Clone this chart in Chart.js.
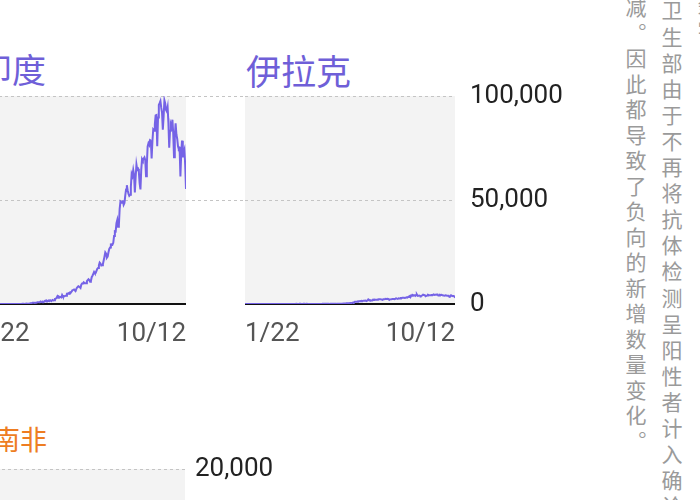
<!DOCTYPE html>
<html>
<head>
<meta charset="utf-8">
<script src="https://cdn.jsdelivr.net/npm/chart.js@4.4.0/dist/chart.umd.min.js"></script>
<style>
  body { margin: 0; width: 700px; height: 500px; overflow: hidden; position: relative; background: #fff; }
  canvas { position: absolute; }
  .title { position: absolute; font-family: "Noto Sans CJK SC"; white-space: nowrap; line-height: 1; }
  .note { position: absolute; writing-mode: vertical-rl; font-family: "Noto Sans CJK SC"; font-size: 21px;
          letter-spacing: 4.5px; line-height: 1; color: #9a9a9a; white-space: nowrap; }
</style>
</head>
<body>

<div class="title" style="left:-22px; top:52px; font-size:34px; color:#6f5fd8">印度</div>
<div class="title" style="left:246px; top:52px; font-size:35px; color:#6f5fd8">伊拉克</div>
<div class="title" style="left:-7px; top:425px; font-size:27px; color:#ee7d22">南非</div>

<div class="note" style="left:697px; top:-6px">数字</div>
<div class="note" style="left:661px; top:0px; letter-spacing:5.1px">卫生部由于不再将抗体检测呈阳性者计入确诊病例</div>
<div class="note" style="left:625px; top:-3px">减。因此都导致了负向的新增数量变化。</div>

<canvas id="bgTop" width="580" height="288" style="left:0; top:56px"></canvas>
<canvas id="india" width="211" height="258" style="left:-25px; top:86px"></canvas>
<canvas id="iraq" width="210" height="258" style="left:245px; top:86px"></canvas>
<canvas id="southAfrica" width="295" height="288" style="left:-10px; top:429px"></canvas>

<script>
// 2020-01-22 .. 2020-10-12, daily new confirmed cases
const startDate = new Date(2020, 0, 22);
const dayCount = 265;
const dates = [];
for (let i = 0; i < dayCount; i++) {
  const d = new Date(startDate.getFullYear(), startDate.getMonth(), startDate.getDate() + i);
  dates.push((d.getMonth() + 1) + "/" + d.getDate());
}
const xTickLabels = ["1/22", "10/12"];

const india = [
  0,0,0,0,0,0,0,0,1,0,
  0,1,1,0,0,0,0,0,0,0, 0,0,0,0,0,0,0,0,0,0, 0,0,0,0,0,0,0,0,0,
  0,2,0,22,2,1,3,5,4,6, 0,11,9,20,11,6,23,14,38,50, 86,66,103,37,121,70,160,100,82,227, 146,
  424,486,560,579,609,484,573,565,813,871, 854,758,1243,1031,886,1061,922,1371,1580,1239,
  1537,1292,1667,1408,1835,1607,1568,1902,1705,1801,
  2396,2564,2952,3656,2971,3602,3344,3339,3175,4311, 3592,3562,3726,3967,3970,4987,4987,5242,4970,5611,
  5609,6088,6654,6767,6977,6535,6387,7466,7964,8380, 8392,
  8171,7761,9304,9851,9887,10438,9971,9987,9985,10956, 11458,11929,11502,10667,10974,12881,13586,14516,15413,14821,
  14933,15968,16922,17296,18552,19906,19459,18522,18653,19148,
  20903,22771,24850,24248,22252,22752,24879,26506,27114,28637, 28701,28498,29429,32695,34956,34884,38902,40425,37148,37724,
  45720,49310,48916,48661,49931,47703,48513,52123,55078,57118, 54735,
  52972,52050,52509,56282,62538,61537,64399,62064,53601,60963, 66999,64553,65002,63490,57981,55079,64531,69652,68898,69878,
  70488,69239,61408,67151,75760,77266,76472,78761,78512,69921, 78357,
  83883,83341,86432,90632,90802,75809,89706,95735,96551,97570, 94372,92071,83809,90123,97894,96424,93337,92605,94612,86961,
  75083,83347,86508,85362,88600,82170,70589,80472,86821,81484,
  79476,75829,74442,74767,61267,72049,78524,70496,73272,74383, 66732,55342
];

const iraq = [
  0,0,0,0,0,0,0,0,0,0,
  0,0,0,0,0,0,0,0,0,0, 0,0,0,0,0,0,0,0,0,0, 0,0,0,1,0,4,1,0,1,
  6,0,12,5,6,2,10,8,6,10, 0,9,8,7,14,14,10,31,25,16, 19,33,33,50,30,36,76,48,41,57, 64,
  66,56,52,59,80,68,46,69,65,60, 30,37,32,41,22,27,24,30,34,20, 37,28,26,37,40,30,29,68,75,62,
  96,63,80,68,86,97,46,88,75,103, 80,72,67,99,102,65,150,115,103,144, 89,147,141,172,199,217,231,299,339,326, 419,
  416,441,444,530,599,740,701,1100,1040,1096, 1050,1274,1306,1279,1437,1319,1461,1407,1585,1572,
  1641,1526,1527,1646,2200,1970,1747,1765,1729,1731,
  2115,2038,2161,2002,1998,2019,2208,2311,2307,2284, 2226,2125,1963,2256,2278,2346,2445,2428,2553,2434,
  2197,2187,2221,2340,2376,2393,2406,2356,2529,2717, 2573,
  2443,2741,2648,2687,2863,2884,3014,3000,2978,2931, 3000,3222,3100,3396,3576,3841,3346,4201,4013,4348,
  4177,4234,3937,4330,4575,3933,4022,4052,3905,3787, 4020,
  4146,4474,4389,4269,3766,3932,4089,4405,4321,4257, 4254,4221,4330,4290,4584,4388,4406,4426,4590,4550,
  4069,4051,4430,4340,4460,4230,4067,4072,4000,4213,
  4134,3924,3973,3933,3422,3528,4213,4014,3892,3890, 3717,3056
];

const southAfrica = [
  0,0,0,0,0,0,0,0,0,0,
  0,0,0,0,0,0,0,0,0,0, 0,0,0,0,0,0,0,0,0,0, 0,0,0,0,0,0,0,0,0,
  0,0,0,0,1,0,1,1,4,0, 6,4,7,14,13,11,23,31,34,52, 38,34,128,152,155,218,243,17,93,48, 27,
  27,82,75,43,50,69,63,96,69,24, 29,18,72,89,127,99,87,251,143,197, 123,146,165,148,247,267,318,163,343,354,
  297,385,447,437,352,424,663,573,595,614, 595,511,698,716,646,1160,1079,767,634,834,
  803,958,1218,1240,1032,1032,1673,1837,1727,1288, 1716,
  1455,1716,1671,3267,3147,2312,2432,1727,2430,2430, 3190,3359,3809,4386,3454,2981,4078,4302,4966,3825,
  4621,4288,4518,4288,6579,7210,6215,7210,6334,6945,
  8124,8728,9063,10853,8971,8773,10134,8810,13674,12058, 13497,12348,11554,10259,11395,13172,13285,13373,12273,8170,
  13150,13944,12222,11176,10107,11554,6365,7232,11362,11046, 10107,
  10000,8195,4456,5377,8307,8147,7712,7346,6609,3692, 5385,6275,4742,5066,3916,2989,2541,2258,3916,3880,
  3398,2999,2505,1842,2447,2974,3220,2559,2376,2585, 1567,
  2406,1504,2328,2258,1983,1559,1218,764,1427,1528, 2042,1819,1341,772,1923,1923,2055,1587,1549,1342,
  770,1264,1967,1907,1595,1595,1283,1069,1113,2017,
  1796,1724,1559,1535,1078,1280,2075,1689,1818,1713, 1487,826
];

const topRowTicks = [0, 50000, 100000];
const bottomRowTicks = [0, 10000, 20000];

const purple = "#7563e6";
const orange = "#ee7d22";
const gridColor = "#c4c4c4";

// gray plot background
const plotBg = {
  id: "plotBg",
  beforeDraw(chart, args, opts) {
    if (!opts.color) return;
    const { ctx, chartArea: a } = chart;
    ctx.save();
    ctx.fillStyle = opts.color;
    ctx.fillRect(a.left, a.top, a.right - a.left, a.bottom - a.top);
    ctx.restore();
  }
};
Chart.register(plotBg);

function yScale(ticks, showLabels, position, width, pad) {
  return {
    position: position,
    min: ticks[0],
    max: ticks[ticks.length - 1],
    afterBuildTicks: s => { s.ticks = ticks.map(v => ({ value: v })); },
    afterFit: s => { s.width = width; },
    border: { display: false, dash: [3, 3] },
    grid: {
      drawTicks: false,
      color: c => (c.tick && c.tick.value === 0 ? "rgba(0,0,0,0)" : gridColor)
    },
    ticks: {
      display: showLabels,
      padding: pad,
      color: "#222",
      font: { family: "Roboto", size: 26 },
      callback: v => v.toLocaleString("en-US")
    }
  };
}

function panel(id, values, color, ticks, labelsOnRight, padTop) {
  new Chart(document.getElementById(id), {
    type: "line",
    data: {
      labels: dates,
      datasets: [{
        data: values,
        borderColor: color,
        borderWidth: 2,
        pointRadius: 0,
        tension: 0
      }]
    },
    options: {
      responsive: false,
      animation: false,
      events: [],
      layout: { padding: { top: padTop, left: 0, right: 0, bottom: 0 } },
      plugins: { legend: { display: false }, tooltip: { enabled: false }, plotBg: { color: "#f3f3f3" } },
      scales: {
        x: {
          afterFit: s => { s.height = 40; s.paddingLeft = 0; s.paddingRight = 0; },
          grid: { display: false, drawTicks: false },
          border: { display: true, color: "#111", width: 2 },
          ticks: {
            autoSkip: false,
            maxRotation: 0,
            align: "inner",
            padding: 15,
            color: "#555",
            font: { family: "Roboto", size: 26 },
            callback: (v, i) => (i === 0 || i === dates.length - 1) && xTickLabels.includes(dates[i]) ? dates[i] : ""
          }
        },
        y: labelsOnRight ? yScale(ticks, true, "right", 100, 10) : yScale(ticks, false, "left", 0, 0)
      }
    }
  });
}

// shared y axis + gridlines for the top row
new Chart(document.getElementById("bgTop"), {
  type: "line",
  data: { labels: dates, datasets: [] },
  options: {
    responsive: false,
    animation: false,
    events: [],
    layout: { padding: { top: 40, bottom: 40, left: 0, right: 0 } },
    plugins: { legend: { display: false }, tooltip: { enabled: false } },
    scales: {
      x: { display: false },
      y: yScale(topRowTicks, true, "right", 125, 15)
    }
  }
});

panel("india", india, purple, topRowTicks, false, 10);
panel("iraq", iraq, purple, topRowTicks, false, 10);
panel("southAfrica", southAfrica, orange, bottomRowTicks, true, 40);
</script>
</body>
</html>
